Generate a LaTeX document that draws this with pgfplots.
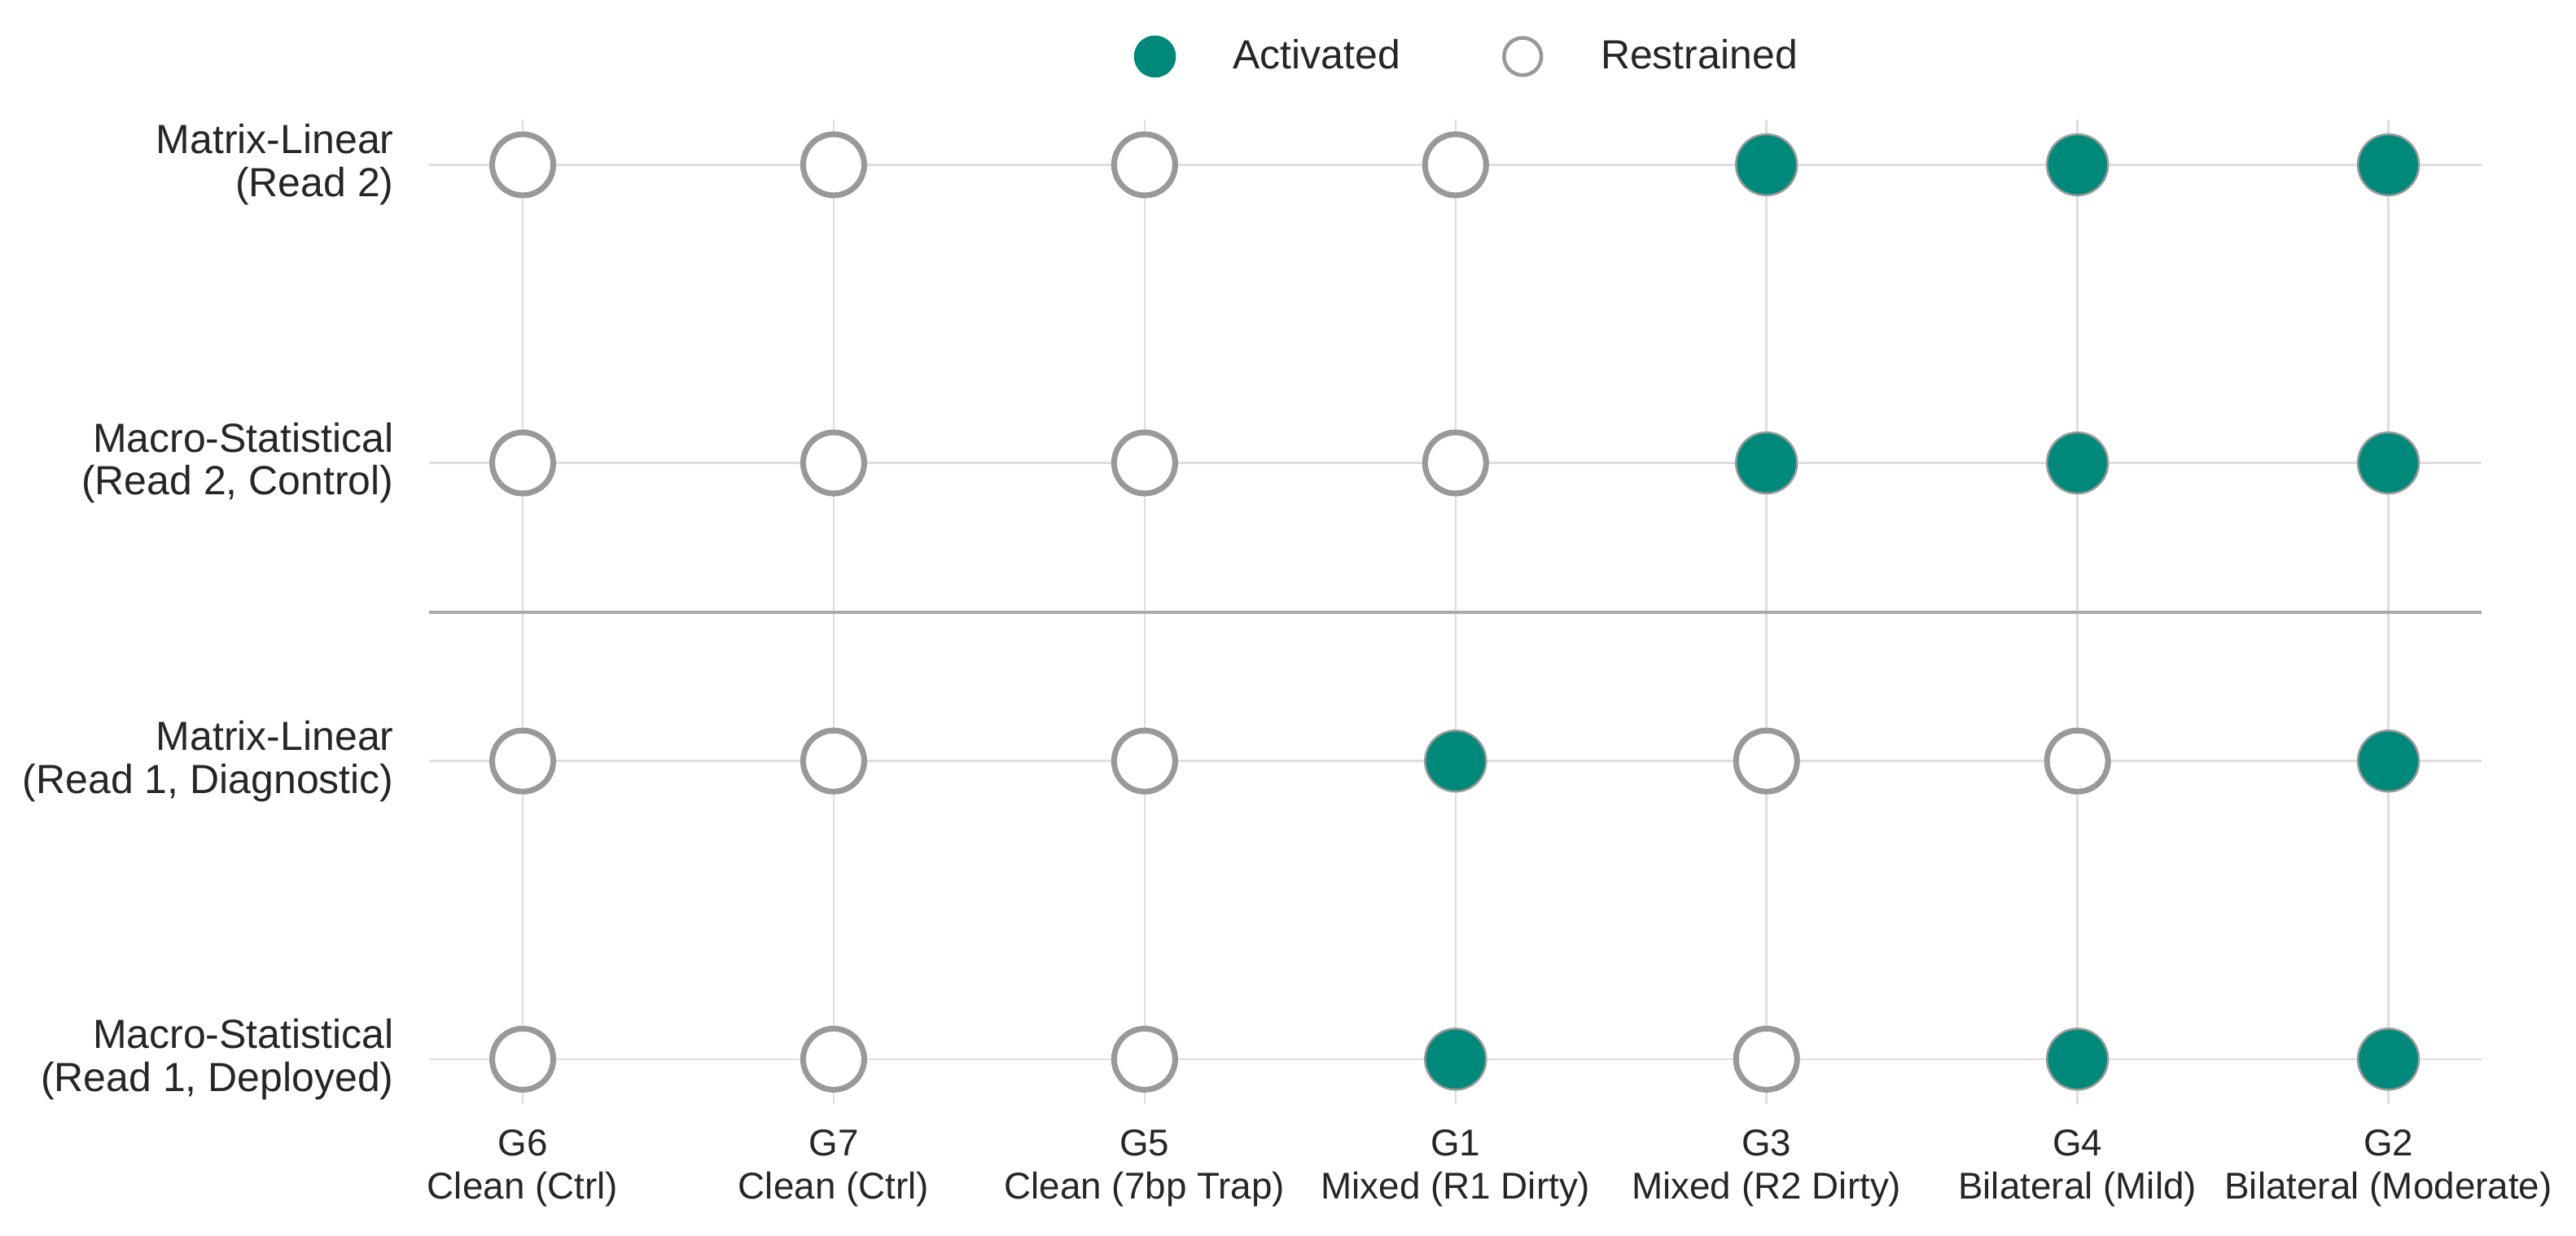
\documentclass[border=0pt]{standalone}
\usepackage{fontspec}
\setmainfont{Liberation Sans}
\usepackage{pgfplots}
\usepackage{pgfplotstable}
\pgfplotsset{compat=1.18}

\definecolor{actc}{RGB}{0,137,123}
\definecolor{edgec}{RGB}{153,153,153}
\definecolor{gridc}{RGB}{222,222,222}
\definecolor{sepc}{RGB}{170,170,170}
\definecolor{textc}{RGB}{38,38,38}

% columns: 0=G6 1=G7 2=G5 3=G1 4=G3 5=G4 6=G2
% rows: 3=Matrix-Linear R2, 2=Macro-Stat R2, 1=Matrix-Linear R1, 0=Macro-Stat R1
\pgfplotstableread{
x y
4 3
5 3
6 3
4 2
5 2
6 2
3 1
6 1
3 0
5 0
6 0
}\activated

\pgfplotstableread{
x y
0 3
1 3
2 3
3 3
0 2
1 2
2 2
3 2
0 1
1 1
2 1
4 1
5 1
0 0
1 0
2 0
4 0
}\restrained

\begin{document}
\begin{tikzpicture}
\useasboundingbox (-126.6pt,-38.9pt) rectangle (632.8pt,325.4pt);
\begin{axis}[
    at={(0pt,0pt)}, anchor=south west,
    scale only axis,
    width=605pt, height=290pt,
    xmin=-0.3, xmax=6.3,
    ymin=-0.15, ymax=3.15,
    xtick={0,1,2,3,4,5,6},
    xticklabels={G6\\Clean (Ctrl), G7\\Clean (Ctrl), G5\\Clean (7bp Trap), G1\\Mixed (R1 Dirty), G3\\Mixed (R2 Dirty), G4\\Bilateral (Mild), G2\\Bilateral (Moderate)},
    ytick={0,1,2,3},
    yticklabels={Macro-Statistical\\(Read 1{,} Deployed), Matrix-Linear\\(Read 1{,} Diagnostic), Macro-Statistical\\(Read 2{,} Control), Matrix-Linear\\(Read 2)},
    xticklabel style={align=center, font=\fontsize{11}{12.7}\selectfont, text=textc, yshift=-4pt},
    yticklabel style={align=right, font=\fontsize{12}{12.7}\selectfont, text=textc, xshift=-7pt},
    axis line style={draw=none},
    major tick style={draw=none},
    xmajorgrids, ymajorgrids,
    grid style={color=gridc, line width=0.6pt},
    clip=false,
    legend columns=2,
    legend style={at={(0.5,1.0646)}, anchor=center, xshift=4pt, draw=none, fill=none,
        font=\fontsize{12}{14}\selectfont, text=textc,
        /tikz/every even column/.append style={column sep=28pt}},
]
\addplot[sepc, line width=1pt, forget plot] coordinates {(-0.3,1.5) (6.3,1.5)};
\addplot[only marks, mark=*, mark size=9pt, forget plot,
    mark options={fill=white, draw=edgec, line width=1.7pt}] table[x=x,y=y] {\restrained};
\addplot[only marks, mark=*, mark size=9pt, forget plot,
    mark options={fill=actc, draw=edgec, line width=0.6pt}] table[x=x,y=y] {\activated};
\addlegendimage{legend image code/.code={\path[draw=none] (-6pt,0pt) -- (21pt,0pt); \fill[actc] (0pt,0pt) circle (6pt);}}
\addlegendentry{Activated}
\addlegendimage{legend image code/.code={\path[draw=none] (-6pt,0pt) -- (21pt,0pt); \draw[edgec, line width=1.1pt] (0pt,0pt) circle (5.5pt);}}
\addlegendentry{Restrained}
\end{axis}
\end{tikzpicture}
\end{document}
